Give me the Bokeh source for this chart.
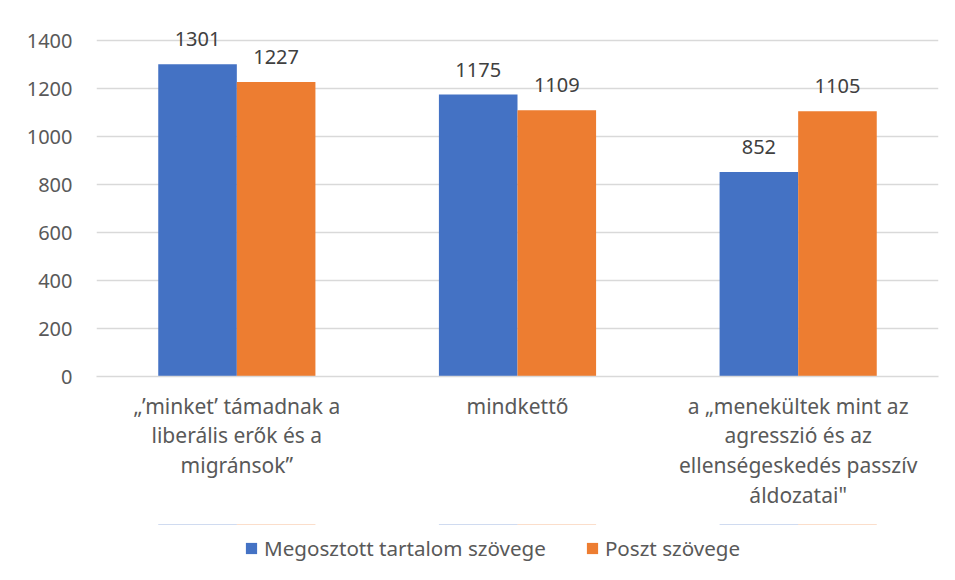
from bokeh.plotting import figure
from bokeh.models import FactorRange, Range1d, ColumnDataSource, Legend, LegendItem, LabelSet
from bokeh.layouts import column
from bokeh.core.properties import value
from bokeh.transform import dodge
from bokeh.embed import file_html
from bokeh.resources import INLINE

categories = [
    "\u201e\u2019minket\u2019 t\u00e1madnak a\nliber\u00e1lis er\u0151k \u00e9s a\nmigr\u00e1nsok\u201d",
    "mindkett\u0151",
    "a \u201emenek\u00fcltek mint az\nagresszi\u00f3 \u00e9s az\nellens\u00e9geskedés passz\u00edv\n\u00e1ldozatai\"",
]
series_names = ["Megosztott tartalom sz\u00f6vege", "Poszt sz\u00f6vege"]
shared_values = [1301, 1175, 852]
post_values = [1227, 1109, 1105]
y_ticks = [0, 200, 400, 600, 800, 1000, 1200, 1400]

FONT = "Noto Sans"
TXT = "#595959"
GRID = "#d9d9d9"
BLUE = "#4472C4"
ORANGE = "#ED7D31"

src = ColumnDataSource(dict(
    cat=categories,
    shared=shared_values,
    post=post_values,
    shared_lbl=[str(v) for v in shared_values],
    post_lbl=[str(v) for v in post_values],
))

# frame spans from canvas top so the top data labels are not clipped;
# the 1400 gridline stays 40px below the top edge (336px for 0..1400)
y_top = y_ticks[-1] * 376 / 336

p = figure(
    x_range=FactorRange(*categories), y_range=Range1d(0, y_top),
    width=939, height=524, output_backend="svg", toolbar_location=None,
    min_border_left=96, min_border_right=1, min_border_top=0, min_border_bottom=148,
)
p.outline_line_color = None
p.background_fill_color = "white"

bw = 0.28
p.vbar(x=dodge("cat", -bw / 2, range=p.x_range), top="shared", width=bw, source=src,
       fill_color=BLUE, line_color=None)
p.vbar(x=dodge("cat", bw / 2, range=p.x_range), top="post", width=bw, source=src,
       fill_color=ORANGE, line_color=None)

for xoff, col in ((-bw / 2, "shared"), (bw / 2, "post")):
    ls = LabelSet(x=dodge("cat", xoff, range=p.x_range), y=col, text=col + "_lbl", source=src,
                  text_align="center", text_baseline="alphabetic", y_offset=18,
                  text_font=value(FONT), text_font_size="20px", text_color="#404040")
    p.add_layout(ls)

p.ygrid.grid_line_color = GRID
p.ygrid.grid_line_width = 1.5
p.xgrid.grid_line_color = None

p.yaxis.ticker = y_ticks
p.yaxis.axis_line_color = None
p.yaxis.major_tick_line_color = None
p.yaxis.minor_tick_line_color = None
p.yaxis.major_tick_out = 0
p.yaxis.major_label_standoff = 24
p.yaxis.major_label_text_font = FONT
p.yaxis.major_label_text_font_size = "20px"
p.yaxis.major_label_text_color = TXT

p.xaxis.axis_line_color = GRID
p.xaxis.axis_line_width = 1.5
p.xaxis.major_tick_line_color = None
p.xaxis.major_tick_out = 0
p.xaxis.major_label_standoff = 15
p.xaxis.major_label_text_font = FONT
p.xaxis.major_label_text_font_size = "21px"
p.xaxis.major_label_text_color = TXT
p.xaxis.major_label_text_line_height = 1.07

# legend strip below the chart (same series as zero-height bars, outside its visible y-range)
pl = figure(x_range=p.x_range, y_range=Range1d(-2000, -1000),
            width=939, height=48, output_backend="svg", toolbar_location=None,
            x_axis_type=None, y_axis_type=None,
            min_border_left=0, min_border_right=0, min_border_top=0, min_border_bottom=0)
pl.outline_line_color = None
pl.xgrid.grid_line_color = None
pl.ygrid.grid_line_color = None
l1 = pl.vbar(x=dodge("cat", -bw / 2, range=pl.x_range), bottom="shared", top="shared",
             width=bw, source=src, fill_color=BLUE, line_color=None)
l2 = pl.vbar(x=dodge("cat", bw / 2, range=pl.x_range), bottom="post", top="post",
             width=bw, source=src, fill_color=ORANGE, line_color=None)

legend = Legend(items=[LegendItem(label=series_names[0], renderers=[l1]),
                       LegendItem(label=series_names[1], renderers=[l2])],
                orientation="horizontal", location=(148, 10))
legend.label_text_font = FONT
legend.label_text_font_size = "20.6px"
legend.label_text_color = TXT
legend.glyph_width = 14
legend.glyph_height = 14
legend.label_standoff = 6
legend.spacing = 39
legend.border_line_color = None
legend.background_fill_alpha = 0
legend.margin = 0
legend.padding = 0
pl.add_layout(legend)

layout = column(p, pl, spacing=0)
open("out.html", "w").write(file_html(layout, INLINE))
